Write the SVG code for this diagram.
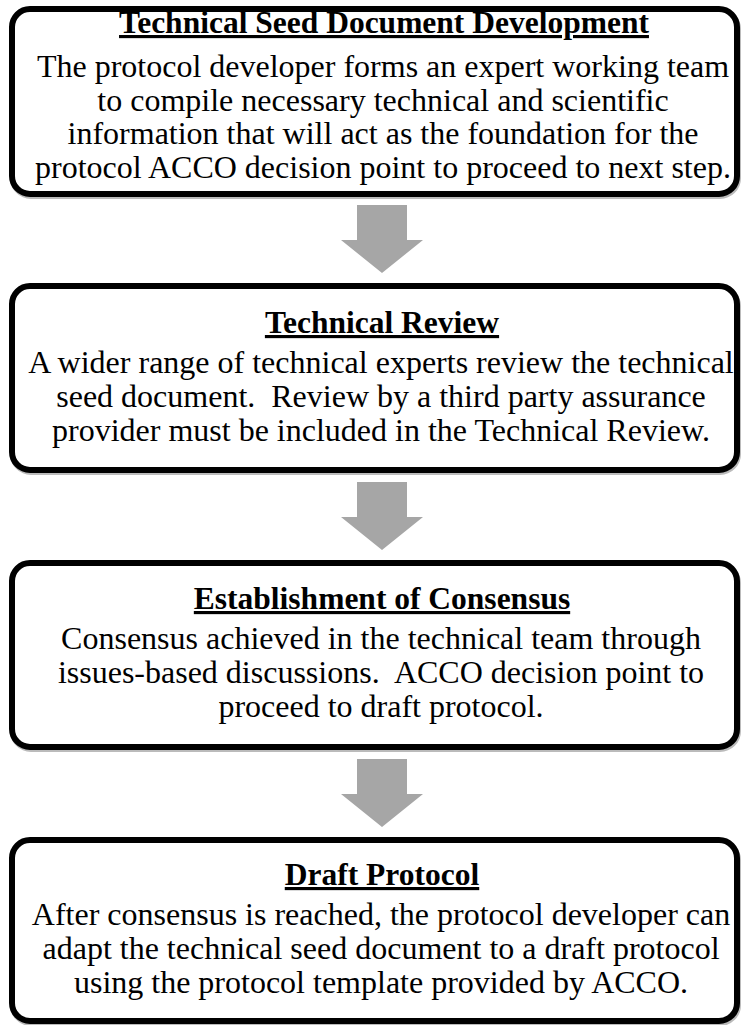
<svg xmlns="http://www.w3.org/2000/svg" width="742" height="1025" viewBox="0 0 742 1025">
<style>
.box{fill:#fff;stroke:#000;stroke-width:6}
.sh{fill:none;stroke:#bbb;stroke-width:6}
text{font-family:'Liberation Serif','DejaVu Serif',serif;fill:#000;text-anchor:middle}
.t{font-size:31.5px;font-weight:bold;text-decoration:underline}
.b{font-size:32px}
.arr{fill:#a6a6a6}
</style>
<rect width="742" height="1025" fill="#fff"/>
<g id="connectors">
<polygon class="arr" points="357,205 407,205 407,240 423,240 382,273 341,240 357,240"/>
<polygon class="arr" points="357,482 407,482 407,517 423,517 382,550 341,517 357,517"/>
<polygon class="arr" points="357,759 407,759 407,794 423,794 382,827 341,794 357,794"/>
</g>
<g id="n1" font-family="Liberation Serif">
<rect class="sh" x="13" y="11" width="725" height="185" rx="18"/>
<rect class="box" x="12" y="9" width="725" height="185" rx="18"/>
<text class="t" x="384" y="33" font-family="Liberation Serif">Technical Seed Document Development</text>
<text class="b" x="383" y="77" font-family="Liberation Serif">The protocol developer forms an expert working team</text>
<text class="b" x="383" y="111" font-family="Liberation Serif">to compile necessary technical and scientific</text>
<text class="b" x="383" y="144" font-family="Liberation Serif">information that will act as the foundation for the</text>
<text class="b" x="383" y="178" font-family="Liberation Serif">protocol ACCO decision point to proceed to next step.</text>
</g>
<g id="n2" font-family="Liberation Serif">
<rect class="sh" x="13" y="288" width="725" height="184" rx="18"/>
<rect class="box" x="12" y="286" width="725" height="184" rx="18"/>
<text class="t" x="382" y="333" font-family="Liberation Serif">Technical Review</text>
<text class="b" x="381" y="373" font-family="Liberation Serif">A wider range of technical experts review the technical</text>
<text class="b" x="381" y="407" font-family="Liberation Serif" xml:space="preserve">seed document.  Review by a third party assurance</text>
<text class="b" x="381" y="441" font-family="Liberation Serif">provider must be included in the Technical Review.</text>
</g>
<g id="n3" font-family="Liberation Serif">
<rect class="sh" x="13" y="565" width="725" height="184" rx="18"/>
<rect class="box" x="12" y="563" width="725" height="184" rx="18"/>
<text class="t" x="382" y="609" font-family="Liberation Serif">Establishment of Consensus</text>
<text class="b" x="381" y="649" font-family="Liberation Serif">Consensus achieved in the technical team through</text>
<text class="b" x="381" y="683" font-family="Liberation Serif" xml:space="preserve">issues-based discussions.  ACCO decision point to</text>
<text class="b" x="381" y="717" font-family="Liberation Serif">proceed to draft protocol.</text>
</g>
<g id="n4" font-family="Liberation Serif">
<rect class="sh" x="13" y="842" width="725" height="181" rx="18"/>
<rect class="box" x="12" y="840" width="725" height="181" rx="18"/>
<text class="t" x="382" y="885" font-family="Liberation Serif">Draft Protocol</text>
<text class="b" x="381" y="925" font-family="Liberation Serif">After consensus is reached, the protocol developer can</text>
<text class="b" x="381" y="959" font-family="Liberation Serif">adapt the technical seed document to a draft protocol</text>
<text class="b" x="381" y="993" font-family="Liberation Serif">using the protocol template provided by ACCO.</text>
</g>
</svg>
